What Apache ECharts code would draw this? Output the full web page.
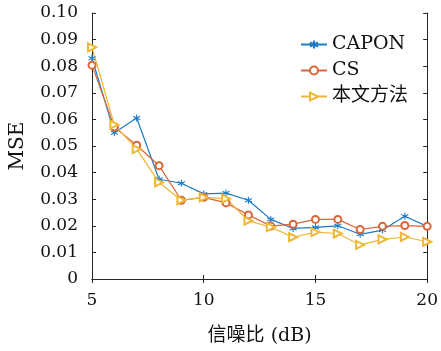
<!DOCTYPE html>
<html>
<head>
<meta charset="utf-8">
<script src="https://cdn.jsdelivr.net/npm/echarts@6/dist/echarts.min.js"></script>
<style>
  html, body { margin: 0; padding: 0; background: #fff; }
  #chart { width: 441px; height: 351px; }
</style>
</head>
<body>
<div id="chart"></div>
<script>
// SNR sweep (dB) and mean-squared error for each estimator
const snr = [5, 6, 7, 8, 9, 10, 11, 12, 13, 14, 15, 16, 17, 18, 19, 20];
const caponMse = [0.083, 0.055, 0.0605, 0.0375, 0.036, 0.032, 0.0323, 0.0296, 0.0224, 0.019, 0.0194, 0.020, 0.0168, 0.0184, 0.0236, 0.0198];
const csMse = [0.0804, 0.0571, 0.0503, 0.0426, 0.0296, 0.0307, 0.0286, 0.0241, 0.0199, 0.0206, 0.0224, 0.0224, 0.0186, 0.0198, 0.0201, 0.0198];
const proposedMse = [0.0871, 0.058, 0.0488, 0.0363, 0.0296, 0.0307, 0.0302, 0.0219, 0.0195, 0.0157, 0.0176, 0.0171, 0.0128, 0.0149, 0.0158, 0.014];
const seriesNames = ['CAPON', 'CS', '本文方法'];
const yTicks = [0, 0.01, 0.02, 0.03, 0.04, 0.05, 0.06, 0.07, 0.08, 0.09, 0.10];

const serif = '"DejaVu Serif", "Noto Sans CJK SC", serif';
const axisColor = '#262626';
const colors = ['#1a7cc6', '#dc6436', '#eeb735'];
const asterisk = 'path://M0,-5L0,5M-4.33,-2.5L4.33,2.5M-4.33,2.5L4.33,-2.5';

const pairs = ys => snr.map((x, i) => [x, ys[i]]);

const frameAxis = (extra) => Object.assign({
  type: 'value',
  axisLine: { show: true, lineStyle: { color: axisColor, width: 1 } },
  axisTick: { show: true, inside: true, length: 4, lineStyle: { color: axisColor } },
  splitLine: { show: false },
}, extra);

const chart = echarts.init(document.getElementById('chart'), null, { renderer: 'canvas' });
chart.setOption({
  backgroundColor: '#fff',
  animation: false,
  color: colors,
  grid: { left: 92, right: 10, top: 13, bottom: 70 },
  legend: {
    orient: 'vertical',
    right: 28,
    top: 30,
    itemWidth: 26,
    itemHeight: 10,
    itemGap: 7,
    textStyle: { fontFamily: serif, fontSize: 19, color: '#111' },
    data: seriesNames
  },
  xAxis: [
    frameAxis({
      min: 5, max: 20, interval: 5,
      name: '信噪比 (dB)',
      nameLocation: 'middle',
      nameGap: 48,
      nameTextStyle: { fontFamily: serif, fontSize: 19, color: '#111' },
      axisLabel: { fontFamily: serif, fontSize: 17, color: '#111', margin: 13 }
    }),
    frameAxis({
      position: 'top', min: 5, max: 20, interval: 5,
      axisLabel: { show: false }
    })
  ],
  yAxis: [
    frameAxis({
      min: 0, max: 0.1, interval: 0.01,
      name: 'MSE',
      nameLocation: 'middle',
      nameGap: 64,
      nameTextStyle: { fontFamily: serif, fontSize: 20, color: '#111' },
      axisLabel: {
        fontFamily: serif, fontSize: 17, color: '#111', margin: 14,
        formatter: v => {
          const t = yTicks.find(k => Math.abs(k - v) < 1e-9);
          return t === 0 ? '0' : t.toFixed(2);
        }
      }
    }),
    frameAxis({
      position: 'right', min: 0, max: 0.1, interval: 0.01,
      axisLabel: { show: false }
    })
  ],
  series: [
    {
      name: seriesNames[0], type: 'line', data: pairs(caponMse),
      symbol: asterisk, symbolSize: 7,
      itemStyle: { color: colors[0], borderColor: colors[0], borderWidth: 1.1 },
      lineStyle: { width: 1.2, color: colors[0] }
    },
    {
      name: seriesNames[1], type: 'line', data: pairs(csMse),
      symbol: 'emptyCircle', symbolSize: 7,
      itemStyle: { color: colors[1], borderWidth: 1 },
      lineStyle: { width: 1.2, color: colors[1] }
    },
    {
      name: seriesNames[2], type: 'line', data: pairs(proposedMse),
      symbol: 'emptyTriangle', symbolSize: 8, symbolRotate: -90,
      itemStyle: { color: colors[2], borderWidth: 1 },
      lineStyle: { width: 1.2, color: colors[2] }
    }
  ]
});
</script>
</body>
</html>
